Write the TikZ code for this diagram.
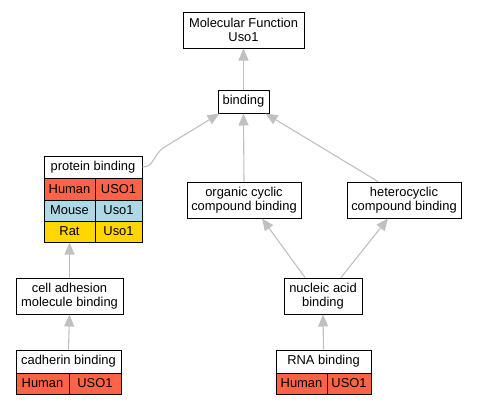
\documentclass[tikz,border=0pt]{standalone}
\usepackage{fontspec}
\setmainfont{Liberation Sans}
\usetikzlibrary{arrows.meta}
\definecolor{edgegray}{HTML}{C0C0C0}
\definecolor{human}{HTML}{FF6347}
\definecolor{mouse}{HTML}{ADD8E6}
\definecolor{rat}{HTML}{FFD700}
\tikzset{
  box/.style={draw=black, line width=1pt, fill=white, rectangle, inner sep=0pt, align=center, font=\fontsize{12.9}{14.5}\selectfont},
  cell/.style={box},
  edge/.style={draw=edgegray, line width=1.1pt, -{Triangle[length=12pt,width=10pt]}, edgegray},
}
\begin{document}
\begin{tikzpicture}[x=1pt,y=-1pt]
\path[use as bounding box, fill=white] (0,0) rectangle (477,405);
% nodes
\node[box, minimum width=121, minimum height=36] (mf) at (243.5,30) {Molecular Function\\Uso1};
\node[box, minimum width=51, minimum height=23] (bind) at (243.5,101.5) {binding};
% protein binding table
\node[box, minimum width=98, minimum height=22] (pbh) at (93,167) {protein binding};
\node[cell, fill=human, minimum width=51, minimum height=22] (pbhuml) at (69.5,189) {Human};
\node[cell, fill=human, minimum width=47, minimum height=22] (pbhumr) at (118.5,189) {USO1};
\node[cell, fill=mouse, minimum width=51, minimum height=21] (pbmusl) at (69.5,210.5) {Mouse};
\node[cell, fill=mouse, minimum width=47, minimum height=21] (pbmusr) at (118.5,210.5) {Uso1};
\node[cell, fill=rat, minimum width=51, minimum height=21] (pbratl) at (69.5,231.5) {Rat};
\node[cell, fill=rat, minimum width=47, minimum height=21] (pbratr) at (118.5,231.5) {Uso1};
\node[box, minimum width=114, minimum height=36] (org) at (244,200) {organic cyclic\\compound binding};
\node[box, minimum width=114, minimum height=36] (het) at (404,200) {heterocyclic\\compound binding};
\node[box, minimum width=107, minimum height=36] (cam) at (69.5,296) {cell adhesion\\molecule binding};
\node[box, minimum width=78, minimum height=36] (nuc) at (323,296) {nucleic acid\\binding};
% cadherin table
\node[box, minimum width=105, minimum height=23] (cadh) at (68.5,361.5) {cadherin binding};
\node[cell, fill=human, minimum width=53, minimum height=21] (cadl) at (42.5,383.5) {Human};
\node[cell, fill=human, minimum width=52, minimum height=21] (cadr) at (95,383.5) {USO1};
% RNA table
\node[box, minimum width=95, minimum height=23] (rnah) at (323.5,361.5) {RNA binding};
\node[cell, fill=human, minimum width=51, minimum height=21] (rnal) at (301.5,383.5) {Human};
\node[cell, fill=human, minimum width=44, minimum height=21] (rnar) at (349,383.5) {USO1};
% edges
\coordinate (c1) at (163,148);
\draw[edge] (bind.north) -- (mf.south);
\draw[edge] (pbh.east) .. controls (154,167) and (152,157) .. (c1) -- ([xshift=2pt]bind.south west);
\draw[edge] (org.north) -- (bind.south);
\draw[edge] ([xshift=-26pt]het.north) -- ([xshift=-4pt]bind.south east);
\draw[edge] ([xshift=-18pt]nuc.north) -- ([xshift=18pt]org.south);
\draw[edge] ([xshift=18pt]nuc.north) -- ([xshift=-16pt]het.south);
\draw[edge] (cam.north) -- (pbratl.south);
\draw[edge] (cadh.north) -- (cam.south);
\draw[edge] (rnah.north) -- (nuc.south);
\end{tikzpicture}
\end{document}
